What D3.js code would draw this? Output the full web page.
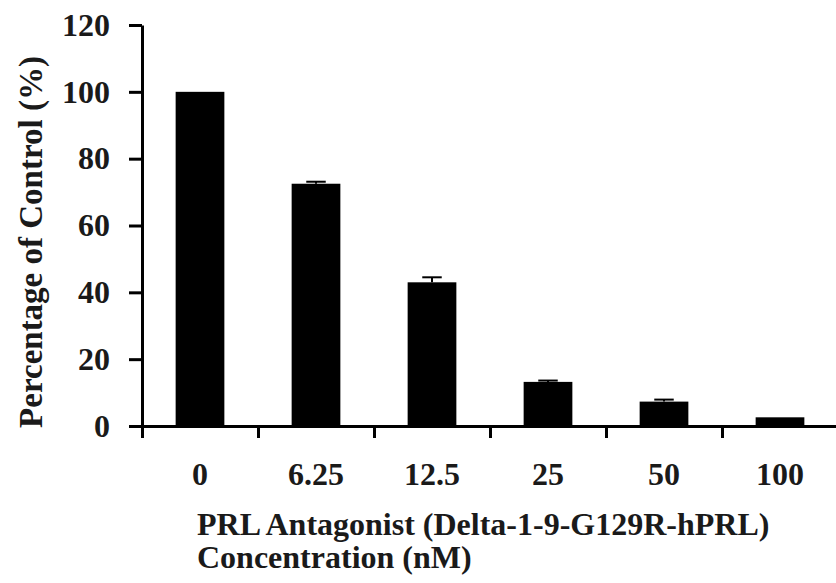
<!DOCTYPE html>
<html>
<head>
<meta charset="utf-8">
<script src="https://cdn.jsdelivr.net/npm/d3@7"></script>
<style>
    body { margin: 0; background: #fff; }
    text { font-family: "Liberation Serif", "Times New Roman", serif; font-weight: bold; fill: #1a1a1a; }
</style>
</head>
<body>
<div id="chart"></div>
<script>
// Chart data.
const concentrations = ["0", "6.25", "12.5", "25", "50", "100"];
const percentOfControl = [100, 72.5, 43, 13.2, 7.3, 2.6];
const errorValues = [0, 0.6, 1.5, 0.4, 0.6, 0];
const yTicks = [0, 20, 40, 60, 80, 100, 120];

const width = 836;
const height = 583;
const margin = { top: 25, right: -2, bottom: 157, left: 142 };

const svg = d3.select("#chart")
    .append("svg")
    .attr("width", width)
    .attr("height", height);

const data = concentrations.map(function(c, i) {
    return { conc: c, value: percentOfControl[i], err: errorValues[i] };
});

// Band scale for the concentrations.
const xScale = d3.scaleBand()
    .domain(concentrations)
    .range([margin.left, width - margin.right])
    .paddingInner(0.58)
    .paddingOuter(0.29);

// Linear scale used only to place the tick marks at band boundaries.
const xBoundary = d3.scaleLinear()
    .domain([0, concentrations.length])
    .range([margin.left, width - margin.right]);

const yScale = d3.scaleLinear()
    .domain([0, 120])
    .range([height - margin.bottom, margin.top]);

// Bars
svg.selectAll("rect.bar")
    .data(data)
    .join("rect")
    .attr("class", "bar")
    .attr("x", function(d) { return xScale(d.conc); })
    .attr("y", function(d) { return yScale(d.value); })
    .attr("width", xScale.bandwidth())
    .attr("height", function(d) { return yScale(0) - yScale(d.value); })
    .attr("fill", "#000");

// Error bars (small caps above the bars)
const errData = data.filter(function(d) { return d.err > 0; });
const capHalf = xScale.bandwidth() * 0.2;
svg.selectAll("line.err")
    .data(errData)
    .join("line")
    .attr("class", "err")
    .attr("x1", function(d) { return xScale(d.conc) + xScale.bandwidth() / 2; })
    .attr("x2", function(d) { return xScale(d.conc) + xScale.bandwidth() / 2; })
    .attr("y1", function(d) { return yScale(d.value); })
    .attr("y2", function(d) { return yScale(d.value + d.err); })
    .attr("stroke", "#000")
    .attr("stroke-width", 2);
svg.selectAll("line.cap")
    .data(errData)
    .join("line")
    .attr("class", "cap")
    .attr("x1", function(d) { return xScale(d.conc) + xScale.bandwidth() / 2 - capHalf; })
    .attr("x2", function(d) { return xScale(d.conc) + xScale.bandwidth() / 2 + capHalf; })
    .attr("y1", function(d) { return yScale(d.value + d.err); })
    .attr("y2", function(d) { return yScale(d.value + d.err); })
    .attr("stroke", "#000")
    .attr("stroke-width", 2);

// Y axis
const yAxis = svg.append("g")
    .attr("transform", `translate(${margin.left}, 0)`)
    .call(d3.axisLeft(yScale).tickValues(yTicks).tickSize(13).tickSizeOuter(0).tickPadding(19));
yAxis.select(".domain").attr("stroke", "#000").attr("stroke-width", 3);
yAxis.selectAll(".tick line").attr("stroke", "#000").attr("stroke-width", 3);
yAxis.selectAll(".tick text")
    .style("font-size", "32px")
    .attr("fill", "#1a1a1a");

// X axis line and boundary ticks
const xAxis = svg.append("g")
    .attr("transform", `translate(0, ${height - margin.bottom})`)
    .call(d3.axisBottom(xBoundary).ticks(concentrations.length).tickSize(12).tickSizeOuter(0).tickFormat(""));
xAxis.select(".domain").attr("stroke", "#000").attr("stroke-width", 3);
xAxis.selectAll(".tick line").attr("stroke", "#000").attr("stroke-width", 3);

// X category labels
const xLabels = svg.append("g")
    .attr("transform", `translate(0, ${height - margin.bottom})`)
    .call(d3.axisBottom(xScale).tickSize(0).tickPadding(36));
xLabels.select(".domain").remove();
xLabels.selectAll(".tick text")
    .style("font-size", "32px")
    .attr("fill", "#1a1a1a");

// X axis title (two lines)
svg.append("text")
    .attr("x", 197)
    .attr("y", 535)
    .style("font-size", "32px")
    .text("PRL Antagonist (Delta-1-9-G129R-hPRL)");
svg.append("text")
    .attr("x", 197)
    .attr("y", 568)
    .style("font-size", "32px")
    .text("Concentration (nM)");

// Y axis title
svg.append("text")
    .attr("transform", "translate(42, 242) rotate(-90)")
    .attr("text-anchor", "middle")
    .style("font-size", "33px")
    .text("Percentage of Control (%)");
</script>
</body>
</html>
